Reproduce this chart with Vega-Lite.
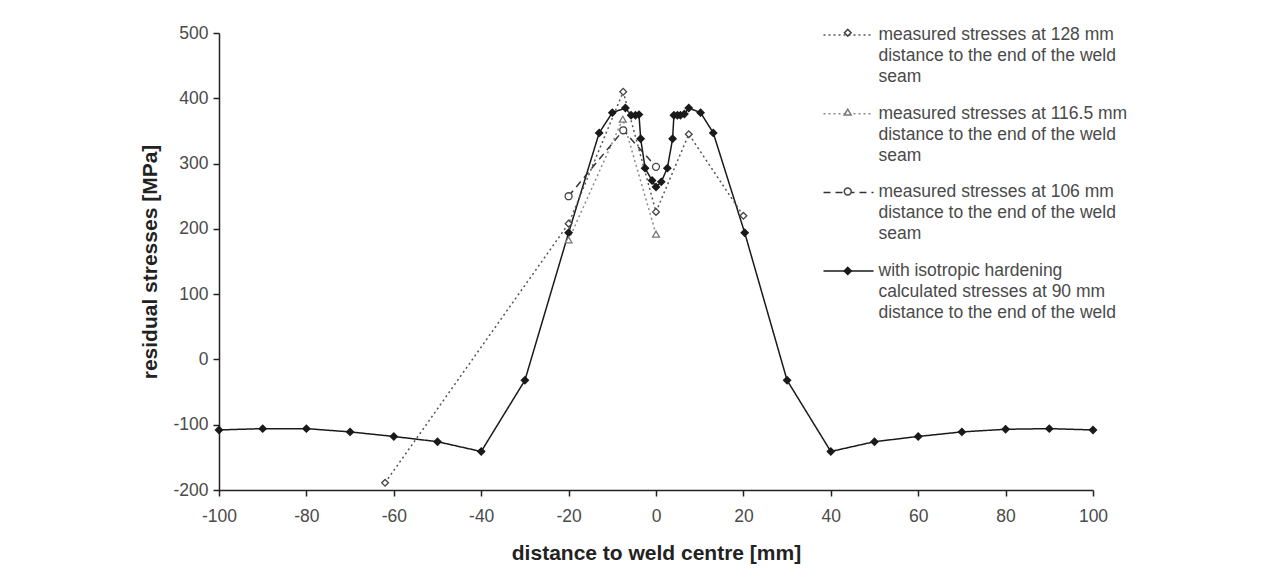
{
  "$schema": "https://vega.github.io/schema/vega-lite/v6.json",
  "width": 874,
  "height": 457,
  "autosize": "none",
  "padding": {"left": 219, "top": 33, "right": 192, "bottom": 79},
  "background": "white",
  "data": {
    "values": [
      {"series": "with isotropic hardening", "dist_end": 90, "x": -100, "y": -108},
      {"series": "with isotropic hardening", "dist_end": 90, "x": -90, "y": -106},
      {"series": "with isotropic hardening", "dist_end": 90, "x": -80, "y": -106},
      {"series": "with isotropic hardening", "dist_end": 90, "x": -70, "y": -111},
      {"series": "with isotropic hardening", "dist_end": 90, "x": -60, "y": -118},
      {"series": "with isotropic hardening", "dist_end": 90, "x": -50, "y": -126},
      {"series": "with isotropic hardening", "dist_end": 90, "x": -40, "y": -141},
      {"series": "with isotropic hardening", "dist_end": 90, "x": -30, "y": -32},
      {"series": "with isotropic hardening", "dist_end": 90, "x": -20, "y": 194},
      {"series": "with isotropic hardening", "dist_end": 90, "x": -13, "y": 347},
      {"series": "with isotropic hardening", "dist_end": 90, "x": -10, "y": 378},
      {"series": "with isotropic hardening", "dist_end": 90, "x": -7, "y": 385},
      {"series": "with isotropic hardening", "dist_end": 90, "x": -5.7, "y": 374},
      {"series": "with isotropic hardening", "dist_end": 90, "x": -4.7, "y": 374},
      {"series": "with isotropic hardening", "dist_end": 90, "x": -3.9, "y": 375},
      {"series": "with isotropic hardening", "dist_end": 90, "x": -3.5, "y": 338},
      {"series": "with isotropic hardening", "dist_end": 90, "x": -2.5, "y": 293},
      {"series": "with isotropic hardening", "dist_end": 90, "x": -0.9, "y": 274},
      {"series": "with isotropic hardening", "dist_end": 90, "x": 0, "y": 264},
      {"series": "with isotropic hardening", "dist_end": 90, "x": 1.2, "y": 272},
      {"series": "with isotropic hardening", "dist_end": 90, "x": 2.6, "y": 293},
      {"series": "with isotropic hardening", "dist_end": 90, "x": 3.8, "y": 338},
      {"series": "with isotropic hardening", "dist_end": 90, "x": 4.1, "y": 374},
      {"series": "with isotropic hardening", "dist_end": 90, "x": 4.9, "y": 374},
      {"series": "with isotropic hardening", "dist_end": 90, "x": 5.6, "y": 374},
      {"series": "with isotropic hardening", "dist_end": 90, "x": 6.5, "y": 376},
      {"series": "with isotropic hardening", "dist_end": 90, "x": 7.5, "y": 385},
      {"series": "with isotropic hardening", "dist_end": 90, "x": 10.2, "y": 378},
      {"series": "with isotropic hardening", "dist_end": 90, "x": 13.1, "y": 347},
      {"series": "with isotropic hardening", "dist_end": 90, "x": 20.3, "y": 194},
      {"series": "with isotropic hardening", "dist_end": 90, "x": 30, "y": -32},
      {"series": "with isotropic hardening", "dist_end": 90, "x": 40, "y": -141},
      {"series": "with isotropic hardening", "dist_end": 90, "x": 50, "y": -126},
      {"series": "with isotropic hardening", "dist_end": 90, "x": 60, "y": -118},
      {"series": "with isotropic hardening", "dist_end": 90, "x": 70, "y": -111},
      {"series": "with isotropic hardening", "dist_end": 90, "x": 80, "y": -107},
      {"series": "with isotropic hardening", "dist_end": 90, "x": 90, "y": -106},
      {"series": "with isotropic hardening", "dist_end": 90, "x": 100, "y": -108},
      {"series": "measured stresses at 128 mm", "dist_end": 128, "x": -62, "y": -189},
      {"series": "measured stresses at 128 mm", "dist_end": 128, "x": -20, "y": 208},
      {"series": "measured stresses at 128 mm", "dist_end": 128, "x": -7.5, "y": 410},
      {"series": "measured stresses at 128 mm", "dist_end": 128, "x": 0, "y": 226},
      {"series": "measured stresses at 128 mm", "dist_end": 128, "x": 7.5, "y": 345},
      {"series": "measured stresses at 128 mm", "dist_end": 128, "x": 20, "y": 220},
      {"series": "measured stresses at 116.5 mm", "dist_end": 116.5, "x": -20, "y": 183},
      {"series": "measured stresses at 116.5 mm", "dist_end": 116.5, "x": -7.6, "y": 368},
      {"series": "measured stresses at 116.5 mm", "dist_end": 116.5, "x": 0, "y": 192},
      {"series": "measured stresses at 106 mm", "dist_end": 106, "x": -20, "y": 250},
      {"series": "measured stresses at 106 mm", "dist_end": 106, "x": -7.5, "y": 351},
      {"series": "measured stresses at 106 mm", "dist_end": 106, "x": 0, "y": 295}
    ]
  },
  "encoding": {
    "x": {
      "field": "x", "type": "quantitative",
      "scale": {"domain": [-100, 100], "nice": false, "zero": false},
      "axis": {"values": [-100, -80, -60, -40, -20, 0, 20, 40, 60, 80, 100], "title": "distance to weld centre [mm]", "titlePadding": 18, "labelPadding": 11, "labelExpr": "'' + datum.value"}
    },
    "y": {
      "field": "y", "type": "quantitative",
      "scale": {"domain": [-200, 500], "nice": false, "zero": false},
      "axis": {"values": [-200, -100, 0, 100, 200, 300, 400, 500], "title": "residual stresses [MPa]", "titlePadding": 12, "labelPadding": 5, "labelExpr": "'' + datum.value"}
    }
  },
  "layer": [
    {
      "mark": {"type": "line", "strokeWidth": 1.5},
      "encoding": {
        "stroke": {
          "field": "series", "type": "nominal",
          "scale": {
            "domain": ["measured stresses at 128 mm", "measured stresses at 116.5 mm", "measured stresses at 106 mm", "with isotropic hardening"],
            "range": ["#555555", "#8a8a8a", "#333333", "#1a1a1a"]
          },
          "legend": {
            "orient": "none", "legendX": 603.5, "legendY": -24, "title": null, "padding": 0,
            "symbolType": "M-1,0H1", "symbolSize": 2500, "symbolStrokeWidth": 1.5,
            "labelFontSize": 17.5, "labelColor": "#4a4a4a", "labelLimit": 0, "labelOffset": 4, "rowPadding": 1.7,
            "labelExpr": "datum.label == 'with isotropic hardening' ? ['with isotropic hardening', 'calculated stresses at 90 mm', 'distance to the end of the weld'] : [datum.label, 'distance to the end of the weld', 'seam']"
          }
        },
        "strokeDash": {
          "field": "series", "type": "nominal",
          "scale": {
            "domain": ["measured stresses at 128 mm", "measured stresses at 116.5 mm", "measured stresses at 106 mm", "with isotropic hardening"],
            "range": [[2, 3], [2, 3], [7, 5], [1, 0]]
          },
          "legend": {
            "orient": "none", "legendX": 603.5, "legendY": -24, "title": null, "padding": 0,
            "symbolType": "M-1,0H1", "symbolSize": 2500, "symbolStrokeWidth": 1.5,
            "labelFontSize": 17.5, "labelColor": "#4a4a4a", "labelLimit": 0, "labelOffset": 4, "rowPadding": 1.7,
            "labelExpr": "datum.label == 'with isotropic hardening' ? ['with isotropic hardening', 'calculated stresses at 90 mm', 'distance to the end of the weld'] : [datum.label, 'distance to the end of the weld', 'seam']"
          }
        }
      }
    },
    {
      "mark": {"type": "point", "filled": false, "strokeWidth": 1.3, "opacity": 1},
      "encoding": {
        "shape": {
          "field": "dist_end", "type": "nominal",
          "scale": {"domain": [128, 116.5, 106, 90], "range": ["diamond", "triangle-up", "circle", "diamond"]},
          "legend": {"orient": "none", "legendX": 620, "legendY": -9, "title": null, "padding": 0, "labelFontSize": 17.5, "labelOpacity": 0, "rowPadding": 18.4, "labelExpr": "['x', 'x', 'x']"}
        },
        "fill": {
          "field": "dist_end", "type": "nominal",
          "scale": {"domain": [128, 116.5, 106, 90], "range": ["white", "white", "white", "#1a1a1a"]},
          "legend": {"orient": "none", "legendX": 620, "legendY": -9, "title": null, "padding": 0, "labelFontSize": 17.5, "labelOpacity": 0, "rowPadding": 18.4, "labelExpr": "['x', 'x', 'x']"}
        },
        "color": {
          "field": "dist_end", "type": "nominal",
          "scale": {"domain": [128, 116.5, 106, 90], "range": ["#444444", "#777777", "#444444", "#1a1a1a"]},
          "legend": {"orient": "none", "legendX": 620, "legendY": -9, "title": null, "padding": 0, "labelFontSize": 17.5, "labelOpacity": 0, "rowPadding": 18.4, "labelExpr": "['x', 'x', 'x']"}
        },
        "size": {
          "field": "dist_end", "type": "nominal",
          "scale": {"domain": [128, 116.5, 106, 90], "range": [45, 50, 45, 70]},
          "legend": {"orient": "none", "legendX": 620, "legendY": -9, "title": null, "padding": 0, "labelFontSize": 17.5, "labelOpacity": 0, "rowPadding": 18.4, "labelExpr": "['x', 'x', 'x']"}
        }
      }
    }
  ],
  "config": {
    "font": "Liberation Sans",
    "view": {"stroke": null},
    "style": {"guide-label": {"lineHeight": 21}},
    "axis": {
      "grid": false,
      "domainColor": "#222222",
      "domainWidth": 1.5,
      "tickColor": "#222222",
      "tickWidth": 1.5,
      "tickSize": 6,
      "labelFontSize": 17.5,
      "labelColor": "#4a4a4a",
      "labelPadding": 8,
      "titleFontSize": 21,
      "titleFontWeight": "bold",
      "titleColor": "#222222"
    },
    "axisX": {"labelFlush": false}
  }
}
